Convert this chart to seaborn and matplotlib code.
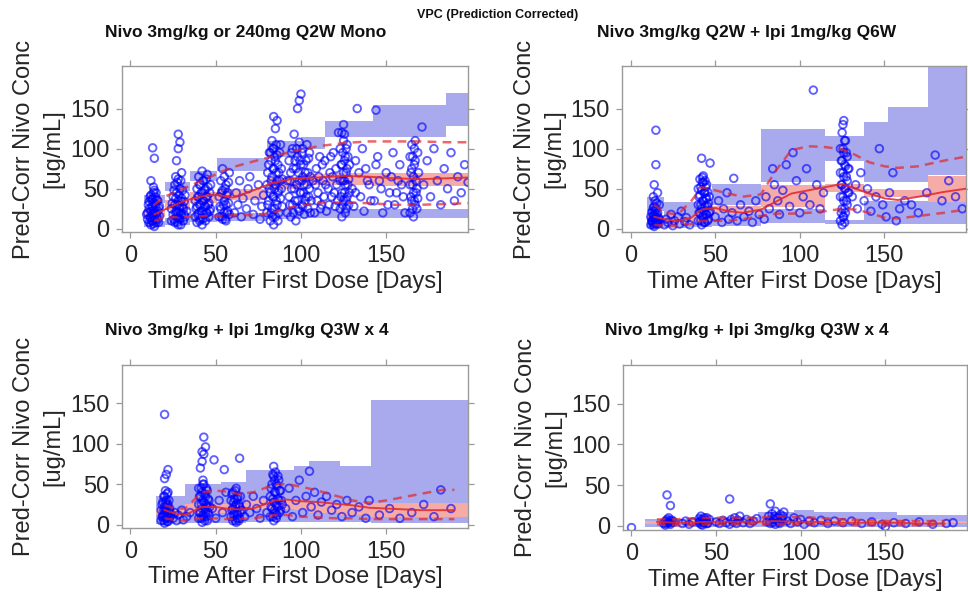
import numpy as np
import pandas as pd
import matplotlib
matplotlib.use("Agg")
import matplotlib.pyplot as plt
import seaborn as sns

sns.set_style("ticks")
plt.rcParams['font.family'] = ['Liberation Sans', 'DejaVu Sans']

# ---------------- DATA ----------------
suptitle = "VPC (Prediction Corrected)"
panel_titles = ["Nivo 3mg/kg or 240mg Q2W Mono",
                "Nivo 3mg/kg Q2W + Ipi 1mg/kg Q6W",
                "Nivo 3mg/kg + Ipi 1mg/kg Q3W x 4",
                "Nivo 1mg/kg + Ipi 3mg/kg Q3W x 4"]
x_ticks = [0, 50, 100, 150]
y_ticks = [0, 50, 100, 150]
x_label = "Time After First Dose [Days]"
y_label = "Pred-Corr Nivo Conc\n[ug/mL]"

# ---- Panel 1: observed points (time, conc)
p1_obs = [(10,12),(10,20),(11,8),(11,25),(11,34),(12,5),(12,15),(12,22),(12,42),(12,60),(13,10),(13,18),(13,28),(13,38),(13,101),(14,3),(14,14),(14,24),(14,32),(14,48),(14,88),(15,8),(15,19),(15,27),(15,45),(16,12),(16,22),(16,35),(17,16),(17,28),
          (9.5,18),(10.5,30),(11.5,14),(12.5,28),(12.5,36),(13.5,6),(13.5,21),(13.5,45),(14.5,11),(14.5,30),(15.5,16),(15.5,36),(16.5,26),(11.5,40),(13.5,52),(16.5,8),(12.5,10),(14.5,40),
          (24,10),(24,25),(25,18),(25,40),(26,8),(26,30),(26,55),(27,15),(27,22),(27,45),(27,85),(28,5),(28,20),(28,35),(28,62),(28,100),(28,118),(29,12),(29,28),(29,50),(29,108),(30,18),(30,38),(30,70),(31,10),(31,25),(32,15),(32,42),(33,22),
          (24.5,32),(25.5,12),(25.5,48),(26.5,20),(26.5,38),(27.5,30),(27.5,58),(28.5,14),(28.5,42),(28.5,26),(29.5,20),(29.5,35),(29.5,60),(30.5,28),(30.5,48),(31.5,18),(31.5,34),(27.5,8),(29.5,5),(26.5,65),
          (38,15),(38,35),(39,8),(39,28),(39,50),(40,20),(40,40),(40,65),(41,12),(41,30),(41,55),(42,5),(42,22),(42,45),(42,72),(43,18),(43,35),(43,60),(44,10),(44,28),(44,50),(45,20),(45,40),(45,68),(46,15),(46,32),(47,25),(47,55),
          (38.5,25),(39.5,40),(39.5,18),(40.5,30),(40.5,55),(41.5,22),(41.5,45),(42.5,12),(42.5,35),(42.5,60),(43.5,28),(43.5,48),(44.5,20),(44.5,40),(44.5,62),(45.5,30),(45.5,52),(46.5,22),(46.5,45),(40.5,10),
          (52,15),(52,40),(53,25),(53,60),(54,12),(54,48),(54,75),(55,20),(55,35),(55,65),(56,10),(56,30),(56,55),(57,22),(57,45),(58,18),(58,70),
          (52.5,28),(53.5,45),(54.5,30),(55.5,50),(56.5,20),(56.5,42),(57.5,32),(57.5,58),(55.5,12),(53.5,15),
          (61,20),(62,45),(63,30),(64,60),(65,15),(66,38),(68,25),(69,50),(70,65),(72,18),(73,35),(75,55),(76,12),(77,28),(78,42),
          (80,20),(80,55),(81,35),(81,80),(82,10),(82,45),(82,95),(83,25),(83,65),(83,110),(84,5),(84,40),(84,75),(84,100),(84,140),(85,15),(85,55),(85,85),(85,125),(86,30),(86,60),(86,92),(86,135),(87,20),(87,48),(87,70),(88,38),(88,105),(89,28),(89,62),
          (80.5,30),(80.5,70),(81.5,50),(81.5,95),(82.5,20),(82.5,60),(82.5,85),(83.5,40),(83.5,75),(83.5,100),(84.5,25),(84.5,50),(84.5,90),(85.5,35),(85.5,70),(85.5,105),(86.5,45),(86.5,80),(87.5,60),(87.5,95),(88.5,50),(88.5,75),(83.5,15),(86.5,10),
          (92,20),(92,60),(93,40),(93,85),(94,15),(94,70),(95,30),(95,100),(96,50),(96,118),(97,10),(97,75),(98,35),(98,90),(98,150),(99,22),(99,60),(99,108),(99,160),(100,45),(100,80),(100,168),(101,28),(101,65),(101,100),(102,18),(102,55),(103,40),(103,85),(104,25),(104,70),(105,50),(105,95),(106,35),(107,60),
          (93.5,30),(93.5,60),(94.5,50),(94.5,95),(95.5,20),(95.5,75),(96.5,35),(96.5,85),(97.5,55),(97.5,100),(98.5,25),(98.5,70),(99.5,45),(99.5,85),(100.5,30),(100.5,60),(100.5,95),(101.5,45),(101.5,80),(102.5,35),(102.5,70),(103.5,55),(103.5,105),(104.5,40),(104.5,88),(105.5,20),(105.5,65),
          (108,20),(109,75),(110,45),(111,90),(112,30),(113,60),(114,85),(115,22),(116,50),(117,70),(118,40),(119,95),(120,28),(121,55),(122,120),
          (108.5,55),(109.5,35),(110.5,65),(111.5,25),(112.5,80),(113.5,40),(114.5,55),(116.5,30),(117.5,90),(118.5,65),(119.5,45),(120.5,75),(121.5,35),
          (123,25),(123,60),(123,100),(124,15),(124,45),(124,80),(124,120),(125,35),(125,70),(125,110),(125,130),(126,20),(126,55),(126,90),(127,40),(127,75),(127,105),(128,30),(128,62),
          (123.5,40),(123.5,80),(124.5,30),(124.5,60),(124.5,95),(125.5,45),(125.5,85),(125.5,118),(126.5,35),(126.5,70),(126.5,100),(127.5,55),(127.5,90),(128.5,45),(128.5,80),(126.5,25),(125.5,60),
          (130,50),(131,28),(132,85),(133,150),(135,40),(136,100),(137,22),(138,75),(140,55),(144,148),(143,35),(145,90),(146,60),(148,20),(150,70),(152,45),(154,95),(155,30),(157,60),(158,80),(160,40),(161,20),
          (132,45),(134,70),(139,60),(141,35),(144,80),(147,50),(151,30),(153,65),(156,45),(159,55),
          (164,20),(164,55),(164,90),(165,35),(165,75),(165,105),(166,15),(166,45),(166,65),(167,30),(167,85),(167,110),(168,50),(168,25),(169,70),
          (164.5,40),(164.5,70),(165.5,25),(165.5,55),(165.5,90),(166.5,35),(166.5,80),(167.5,45),(167.5,60),(168.5,38),(168.5,95),(166.5,100),
          (171,127),(172,55),(174,85),(176,40),(178,100),(180,60),(182,30),(184,75),(186,50),(188,95),(190,35),(192,65),(194,45),(196,80),(198,58)]
p1_edges = [8, 20, 35, 51, 80, 100, 114, 142, 185, 199]
p1_up_lo = [32, 47, 60, 72, 90, 100, 115, 115, 128]
p1_up_hi = [42, 58, 72, 88, 110, 114, 135, 154, 170]
p1_med_lo = [15, 24, 32, 36, 50, 55, 55, 54, 54]
p1_med_hi = [25, 36, 46, 50, 64, 68, 70, 70, 70]
p1_lo_lo = [2, 5, 8, 10, 12, 14, 14, 14, 14]
p1_lo_hi = [10, 14, 18, 20, 24, 25, 25, 25, 25]
p1_line_t = [14, 20, 33, 45, 52, 60, 72, 83, 96, 110, 125, 140, 155, 170, 185, 198]
p1_line_med = [18, 24, 36, 42, 42, 39, 48, 57, 63, 64, 66, 65, 63, 62, 63, 64]
p1_line_up = [30, 40, 52, 63, 70, 77, 84, 90, 97, 103, 107, 109, 109, 109, 108, 108]
p1_line_lo = [10, 14, 15, 16, 16, 17, 17, 20, 28, 32, 33, 32, 30, 30, 31, 32]

# ---- Panel 2
p2_obs = [(12,5),(12,15),(13,10),(13,22),(13,8),(14,3),(14,12),(14,18),(14,28),(14,55),(15,6),(15,14),(15,25),(15,80),(15,123),(16,9),(16,20),(16,45),(17,12),(17,30),
          (12.5,10),(12.5,20),(13.5,5),(13.5,16),(13.5,26),(14.5,8),(14.5,15),(14.5,22),(15.5,10),(15.5,18),(15.5,32),(16.5,6),(16.5,14),(14.5,35),(13.5,40),
          (20,5),(21,12),(22,8),(24,18),(25,4),(26,10),(28,15),(29,6),(30,22),(32,9),(33,14),(35,5),
          (40,10),(40,30),(40,50),(41,20),(41,42),(41,62),(42,5),(42,25),(42,48),(42,88),(43,15),(43,35),(43,58),(43,66),(44,8),(44,28),(44,45),(44,60),(45,18),(45,38),(45,55),(46,12),(46,32),(47,22),(47,82),
          (40.5,20),(40.5,40),(41.5,10),(41.5,30),(41.5,52),(42.5,15),(42.5,35),(42.5,58),(43.5,22),(43.5,45),(44.5,18),(44.5,38),(44.5,52),(45.5,10),(45.5,28),(45.5,46),(46.5,20),(46.5,40),(43.5,8),(42.5,64),
          (50,15),(52,35),(54,8),(55,25),(57,45),(58,12),(60,20),(61,63),(63,10),(65,30),(67,15),(70,22),(72,8),(74,35),(76,18),
          (79,12),(80,40),(82,25),(84,75),(85,55),(87,35),(88,18),(90,48),(92,80),(94,28),(96,95),(98,60),(100,20),(102,40),(104,75),(106,30),(108,173),(110,55),(112,25),(114,45),
          (124,10),(124,40),(124,70),(124,100),(125,5),(125,25),(125,55),(125,85),(125,120),(126,15),(126,35),(126,65),(126,95),(126,135),(127,20),(127,50),(127,78),(127,110),(128,30),(128,60),(128,90),(129,45),(129,75),
          (124.5,20),(124.5,55),(124.5,85),(125.5,15),(125.5,40),(125.5,70),(125.5,100),(126.5,25),(126.5,50),(126.5,80),(126.5,110),(127.5,35),(127.5,65),(127.5,95),(128.5,45),(128.5,75),(125.5,130),(126.5,8),
          (131,40),(133,55),(134,25),(136,70),(138,35),(140,50),(142,22),(145,40),(147,100),(149,30),(151,15),(153,45),(155,70),(157,10),(159,25),(162,35),(166,30),(170,20),(175,45),(180,92),(184,35),(188,60),(192,40),(196,25)]
p2_edges = [10, 20, 35, 48, 77, 115, 138, 152, 176, 199]
p2_up_lo = [22, 14, 14, 30, 58, 85, 58, 58, 67]
p2_up_hi = [40, 34, 34, 56, 125, 116, 133, 152, 210]
p2_med_lo = [8, 6, 8, 18, 27, 46, 40, 40, 33]
p2_med_hi = [16, 13, 16, 28, 55, 56, 50, 48, 66]
p2_lo_lo = [1, 1, 2, 3, 7, 6, 6, 6, 6]
p2_lo_hi = [7, 6, 8, 18, 25, 11, 35, 35, 33]
p2_line_t = [14, 20, 28, 36, 42, 50, 58, 66, 77, 86, 95, 105, 115, 125, 133, 141, 150, 158, 170, 185, 198]
p2_line_med = [15, 12, 10, 14, 24, 26, 22, 20, 24, 34, 44, 48, 52, 56, 50, 44, 38, 36, 40, 46, 50]
p2_line_up = [30, 20, 18, 35, 52, 48, 44, 40, 43, 73, 98, 103, 102, 99, 92, 83, 78, 76, 78, 85, 90]
p2_line_lo = [5, 4, 4, 6, 10, 10, 10, 12, 16, 19, 19, 20, 22, 25, 24, 20, 14, 13, 16, 20, 24]

# ---- Panel 3
p3_obs = [(18,5),(18,18),(19,10),(19,28),(20,2),(20,14),(20,22),(20,35),(20,57),(20,136),(21,8),(21,18),(21,30),(21,62),(22,4),(22,12),(22,25),(22,40),(22,68),(23,10),(23,20),
          (18.5,10),(18.5,25),(19.5,5),(19.5,18),(19.5,35),(20.5,8),(20.5,18),(20.5,28),(21.5,4),(21.5,14),(21.5,24),(21.5,38),(22.5,8),(22.5,18),(22.5,30),(23.5,14),(20.5,42),(19.5,12),
          (25,8),(26,15),(27,5),(28,12),(30,18),(31,6),(33,10),(35,15),
          (40,8),(40,25),(40,45),(41,15),(41,35),(41,70),(42,3),(42,20),(42,40),(42,78),(42,90),(43,10),(43,28),(43,50),(43,87),(43,108),(44,15),(44,35),(44,96),(45,5),(45,22),(45,42),(46,12),(46,30),
          (40.5,15),(40.5,35),(41.5,8),(41.5,25),(41.5,45),(42.5,12),(42.5,30),(42.5,50),(43.5,5),(43.5,20),(43.5,38),(44.5,10),(44.5,25),(44.5,45),(45.5,15),(45.5,32),(46.5,22),(42.5,55),
          (48,20),(49,80),(50,8),(52,30),(54,15),(55,68),(56,40),
          (59,10),(59,30),(60,5),(60,20),(60,40),(61,15),(61,32),(62,3),(62,25),(62,45),(63,12),(63,35),(64,8),(64,22),(64,82),(65,18),
          (59.5,18),(59.5,38),(60.5,12),(60.5,28),(61.5,5),(61.5,22),(61.5,42),(62.5,15),(62.5,32),(63.5,5),(63.5,25),(64.5,15),(64.5,35),(62.5,8),
          (67,10),(68,25),(70,15),(72,35),(74,20),(76,8),(78,30),(80,15),
          (82,10),(82,35),(83,20),(83,50),(84,5),(84,28),(84,60),(84,72),(85,15),(85,40),(85,65),(86,22),(86,48),(86,12),(87,30),(87,55),(88,18),(88,42),(89,25),
          (82.5,22),(82.5,45),(83.5,10),(83.5,32),(83.5,62),(84.5,18),(84.5,40),(84.5,55),(85.5,25),(85.5,50),(86.5,32),(86.5,60),(87.5,15),(87.5,42),(88.5,30),(85.5,8),
          (91,20),(93,45),(95,10),(97,30),(99,55),(101,15),(103,35),(105,66),(106,22),(108,40),(110,12),(112,28),(115,35),(118,18),(121,25),(124,10),(127,30),(130,15),(134,22),(138,8),(140,30),
          (146,12),(152,20),(158,8),(165,15),(172,25),(178,10),(182,43),(188,20)]
p3_edges = [15, 32, 53, 68, 96, 105, 123, 141, 199]
p3_up_lo = [18, 25, 25, 28, 25, 22, 20, 10]
p3_up_hi = [35, 50, 53, 68, 73, 78, 73, 154]
p3_med_lo = [12, 15, 15, 20, 18, 15, 12, 10]
p3_med_hi = [20, 25, 25, 32, 30, 27, 27, 27]
p3_lo_lo = [1, 2, 2, 3, 3, 3, 3, 2]
p3_lo_hi = [12, 15, 15, 20, 18, 15, 12, 10]
p3_line_t = [20, 26, 32, 42, 50, 56, 63, 72, 85, 92, 100, 110, 120, 130, 140, 150, 160, 170, 183, 190]
p3_line_med = [18, 14, 12, 22, 22, 20, 19, 20, 30, 31, 29, 28, 26, 24, 21, 20, 19, 18, 18, 18]
p3_line_up = [24, 20, 20, 40, 42, 41, 38, 40, 50, 50, 47, 42, 36, 30, 27, 30, 34, 38, 43, 43]
p3_line_lo = [8, 6, 5, 8, 8, 7, 7, 8, 12, 12, 10, 9, 8, 8, 7, 7, 7, 7, 7, 7]

# ---- Panel 4
p4_obs = [(0,-2),
          (19,3),(20,6),(20,1),(21,8),(21,38),(22,4),(22,10),(23,2),(23,25),(24,7),(25,5),
          (20.5,3),(21.5,5),(22.5,7),(23.5,4),
          (30,3),(32,6),(34,2),(36,5),
          (40,4),(40,9),(41,2),(41,12),(42,6),(42,1),(43,10),(43,4),(44,7),(45,3),(46,8),
          (40.5,6),(41.5,8),(42.5,4),(43.5,7),(44.5,3),(44.5,10),
          (50,5),(52,3),(54,7),(56,4),
          (58,2),(58,33),(59,8),(60,5),(61,10),(62,3),(63,7),(64,12),
          (66,4),(68,8),(70,3),(72,6),(74,9),
          (80,5),(81,12),(82,27),(82,3),(83,15),(84,8),(85,18),(85,2),(86,10),(87,5),(88,14),(89,7),(90,17),
          (81.5,6),(83.5,4),(84.5,12),(86.5,7),(87.5,3),(88.5,9),(89.5,12),
          (92,6),(94,3),(96,10),(98,5),(100,8),(102,2),(105,6),(108,4),(112,7),(116,3),(120,6),
          (125,4),(130,6),(136,3),(142,5),(148,2),(150,-1),(155,4),(162,3),(170,5),(178,2),(186,3),(190,4)]
p4_edges = [8, 32, 53, 75, 96, 108, 157, 199]
p4_up_lo = [6, 7, 7, 9, 9, 8, 6]
p4_up_hi = [9, 10, 11, 17, 20, 17, 14]
p4_med_lo = [2, 3, 3, 4, 4, 3, 3]
p4_med_hi = [6, 7, 7, 9, 9, 8, 6]
p4_lo_lo = [-1, -1, -1, -1, -1, -1, -1]
p4_lo_hi = [2, 3, 3, 4, 4, 3, 3]
p4_line_t = [15, 25, 35, 45, 55, 65, 75, 85, 95, 110, 125, 140, 155, 170, 185]
p4_line_med = [5, 4, 4, 5, 5, 5, 5, 6, 5, 5, 4, 4, 4, 3, 3]
p4_line_up = [8, 8, 9, 10, 10, 10, 10, 12, 11, 10, 8, 7, 6, 6, 6]
p4_line_lo = [2, 1, 1, 2, 2, 2, 2, 2, 2, 2, 1, 1, 1, 1, 1]

# ---------------- STYLE / LAYOUT ----------------
BAND_BLUE = "#a9a9ee"
BAND_RED = "#f6aca6"
PT_BLUE = "#0000ff"
LINE_RED = "#e3262a"
SPINE = "#9a9a9a"
TXT = "#262626"

panels = [
    dict(obs=p1_obs, edges=p1_edges, up=(p1_up_lo, p1_up_hi), med=(p1_med_lo, p1_med_hi), lo=(p1_lo_lo, p1_lo_hi),
         lt=p1_line_t, lmed=p1_line_med, lup=p1_line_up, llo=p1_line_lo,
         rect=[0.126, 0.610, 0.3575, 0.279], ylim=(-4, 203), title_xy=(246, 33)),
    dict(obs=p2_obs, edges=p2_edges, up=(p2_up_lo, p2_up_hi), med=(p2_med_lo, p2_med_hi), lo=(p2_lo_lo, p2_lo_hi),
         lt=p2_line_t, lmed=p2_line_med, lup=p2_line_up, llo=p2_line_lo,
         rect=[0.6426, 0.610, 0.355, 0.279], ylim=(-4, 203), title_xy=(747, 33)),
    dict(obs=p3_obs, edges=p3_edges, up=(p3_up_lo, p3_up_hi), med=(p3_med_lo, p3_med_hi), lo=(p3_lo_lo, p3_lo_hi),
         lt=p3_line_t, lmed=p3_line_med, lup=p3_line_up, llo=p3_line_lo,
         rect=[0.126, 0.1126, 0.3575, 0.274], ylim=(-4, 197), title_xy=(247, 330)),
    dict(obs=p4_obs, edges=p4_edges, up=(p4_up_lo, p4_up_hi), med=(p4_med_lo, p4_med_hi), lo=(p4_lo_lo, p4_lo_hi),
         lt=p4_line_t, lmed=p4_line_med, lup=p4_line_up, llo=p4_line_lo,
         rect=[0.6436, 0.1092, 0.355, 0.277], ylim=(-5, 197), title_xy=(747, 330)),
]

W, H = 968, 595
fig = plt.figure(figsize=(W / 100, H / 100), dpi=100)
fig.patch.set_facecolor("white")

for p, title in zip(panels, panel_titles):
    ax = fig.add_axes(p["rect"])
    e = p["edges"]
    for key, col in [("up", BAND_BLUE), ("lo", BAND_BLUE), ("med", BAND_RED)]:
        lo, hi = p[key]
        for i in range(len(e) - 1):
            ax.fill_between([e[i], e[i + 1]], [lo[i], lo[i]], [hi[i], hi[i]],
                            color=col, lw=0, zorder=1)
    obs = pd.DataFrame(p["obs"], columns=["time", "conc"])
    sns.scatterplot(data=obs, x="time", y="conc", ax=ax, marker="o",
                    facecolor="none", edgecolor=PT_BLUE, s=30, linewidth=1.35,
                    alpha=0.62, zorder=3)
    lines = pd.DataFrame({"time": p["lt"], "med": p["lmed"], "up": p["lup"], "lo": p["llo"]})
    sns.lineplot(data=lines, x="time", y="med", ax=ax, color=LINE_RED, lw=1.4,
                 alpha=0.85, zorder=4)
    for k in ["up", "lo"]:
        sns.lineplot(data=lines, x="time", y=k, ax=ax, color=LINE_RED, lw=1.8,
                     alpha=0.7, zorder=4)
        ax.lines[-1].set_linestyle((0, (3.5, 2.5)))

    ax.set_xlim(-5, 198)
    ax.set_ylim(*p["ylim"])
    ax.set_xticks(x_ticks)
    ax.set_yticks(y_ticks)
    ax.tick_params(axis="both", which="both", direction="out", length=4, width=0.9,
                   color=SPINE, labelsize=17, labelcolor=TXT, pad=5,
                   top=True, right=True, labeltop=False, labelright=False)
    for sp in ax.spines.values():
        sp.set_color(SPINE)
        sp.set_linewidth(1.0)
        sp.set_visible(True)
    ax.set_xlabel(x_label, fontsize=17, color=TXT)
    ax.set_ylabel(y_label, fontsize=17, color=TXT, linespacing=1.45)
    ax.xaxis.set_label_coords(0.5, -0.235)
    ax.xaxis.label.set_va("top")
    ax.yaxis.set_label_coords(-0.165, 0.5)
    ax.set_facecolor("white")

    tx, ty = p["title_xy"]
    fig.text(tx / W, 1 - ty / H, title, ha="center", va="center",
             fontsize=12.5, fontweight="bold", color="#111111")

fig.text(498 / W, 1 - 15 / H, suptitle, ha="center", va="center",
         fontsize=9, fontweight="bold", color="#111111")

fig.savefig("out.png", dpi=100, facecolor="white")
